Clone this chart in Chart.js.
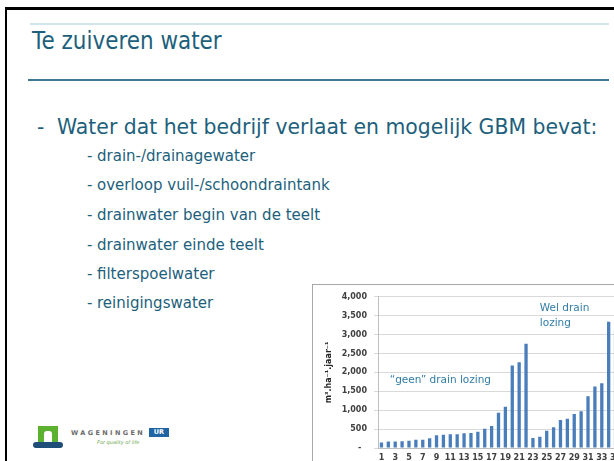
<!DOCTYPE html>
<html>
<head>
<meta charset="utf-8">
<title>Te zuiveren water</title>
<script src="https://cdn.jsdelivr.net/npm/chart.js@4.4.0/dist/chart.umd.min.js"></script>
<style>
    html, body { margin: 0; padding: 0; background: #fff; }
    body { width: 614px; height: 461px; overflow: hidden; position: relative;
           font-family: "DejaVu Sans", Verdana, sans-serif; color: #1d5f7c; }
    .frame { position: absolute; left: 5px; top: 7px; width: 700px; height: 500px;
             border-top: 3px solid #000; border-left: 2px solid #000; }
    .line1 { position: absolute; left: 30px; top: 23px; width: 579px; height: 2px; background: #d3e5ec; }
    .line2 { position: absolute; left: 28px; top: 79px; width: 581px; height: 2px; background: #3d7995; }
    .title { position: absolute; left: 32px; top: 26px; font-size: 25px; line-height: 30px;
             white-space: nowrap; transform: scaleX(0.86); transform-origin: left top; }
    .main { position: absolute; font-size: 20.4px; line-height: 24px; white-space: nowrap; }
    .sub { position: absolute; font-size: 15px; line-height: 18px; white-space: nowrap; }
    .chartbox { position: absolute; left: 312px; top: 284px; width: 400px; height: 300px;
                border-left: 1px solid #a8a8a8; border-top: 1px solid #a8a8a8; }
    .chartwrap { position: absolute; left: 313px; top: 285px; width: 316px; height: 181px; }
    .logo-green { position: absolute; left: 38px; top: 426px; width: 20px; height: 16px; background: #5cb130; }
    .logo-gate { position: absolute; left: 44px; top: 431px; width: 8px; height: 11px; background: #fff;
                 border-radius: 3px 3px 0 0; }
    .logo-wave { position: absolute; left: 33px; top: 442px; width: 30px; height: 6px; background: #1f4e79;
                 border-radius: 3px; }
    .logo-text { position: absolute; left: 71px; top: 429px; font-size: 6.5px; font-weight: bold;
                 letter-spacing: 2.4px; color: #6b6b6b; white-space: nowrap; }
    .logo-ur { position: absolute; left: 149px; top: 428px; width: 20px; height: 9px; background: #1f64a3;
               color: #fff; font-size: 6.5px; font-weight: bold; line-height: 9px; text-align: center; }
    .logo-sub { position: absolute; left: 97px; top: 439px; font-size: 5px; font-style: italic;
                color: #6aa84f; white-space: nowrap; }
</style>
</head>
<body>
<div class="frame"></div>
<div class="line1"></div>
<div class="title">Te zuiveren water</div>
<div class="line2"></div>

<div class="main" style="left:37px; top:115px;">-</div>
<div class="main" style="left:57px; top:115px;">Water dat het bedrijf verlaat en mogelijk GBM bevat:</div>

<div class="sub" style="left:87px; top:147px;">-</div>
<div class="sub" style="left:97px; top:147px;">drain-/drainagewater</div>
<div class="sub" style="left:87px; top:176px;">-</div>
<div class="sub" style="left:97px; top:176px;">overloop vuil-/schoondraintank</div>
<div class="sub" style="left:87px; top:206px;">-</div>
<div class="sub" style="left:97px; top:206px;">drainwater begin van de teelt</div>
<div class="sub" style="left:87px; top:236px;">-</div>
<div class="sub" style="left:97px; top:236px;">drainwater einde teelt</div>
<div class="sub" style="left:87px; top:265px;">-</div>
<div class="sub" style="left:97px; top:265px;">filterspoelwater</div>
<div class="sub" style="left:87px; top:294px;">-</div>
<div class="sub" style="left:97px; top:294px;">reinigingswater</div>

<div class="logo-green"></div>
<div class="logo-gate"></div>
<div class="logo-wave"></div>
<div class="logo-text">WAGENINGEN</div>
<div class="logo-ur">UR</div>
<div class="logo-sub">For quality of life</div>

<div class="chartbox"></div>
<div class="chartwrap"><canvas id="chart"></canvas></div>

<script>
    // bedrijven, genummerd zoals op de as
    var bedrijven = ['1', '2', '3', '4', '5', '6', '7', '8', '9', '10',
        '11', '12', '13', '14', '15', '16', '17', '18', '19', '20',
        '21', '22', '23', '24', '25', '26', '27', '28', '29', '30',
        '31', '32', '33', '34', '35'];

    // m3 per ha per jaar
    var lozing = [145, 170, 175, 178, 195, 220, 220, 258, 335, 352,
        362, 364, 390, 397, 430, 510, 580, 930, 1090, 2180,
        2270, 2760, 265, 300, 455, 550, 740, 775, 900, 970,
        1370, 1630, 1710, 3340, 3110];

    var yTicks = [0, 500, 1000, 1500, 2000, 2500, 3000, 3500, 4000];

    // teksten in de grafiek, geplaatst in as-eenheden (index, waarde)
    var notes = [
        { text: '\u201Cgeen\u201D drain lozing', index: 1.2, value: 1800 },
        { text: 'Wel drain', index: 23, value: 3700 },
        { text: 'lozing', index: 23, value: 3310 }
    ];

    var tickFont = { family: 'DejaVu Sans', size: 8, weight: 'bold' };

    var notesPlugin = {
        id: 'notes',
        afterDatasetsDraw: function (chart) {
            var ctx = chart.ctx;
            ctx.save();
            ctx.font = '10.5px "DejaVu Sans"';
            ctx.fillStyle = '#327da5';
            ctx.textAlign = 'left';
            ctx.textBaseline = 'middle';
            notes.forEach(function (n) {
                ctx.fillText(n.text, chart.scales.x.getPixelForValue(n.index), chart.scales.y.getPixelForValue(n.value));
            });
            ctx.restore();
        }
    };

    Chart.defaults.font.family = 'DejaVu Sans';

    new Chart(document.getElementById('chart').getContext('2d'), {
        type: 'bar',
        data: {
            labels: bedrijven,
            datasets: [{
                data: lozing,
                backgroundColor: '#4a7ebb',
                barPercentage: 0.48,
                categoryPercentage: 1
            }]
        },
        options: {
            responsive: true,
            maintainAspectRatio: false,
            animation: false,
            layout: { padding: { top: 9, right: 10, bottom: 0, left: 0 } },
            plugins: { legend: { display: false }, tooltip: { enabled: false } },
            scales: {
                x: {
                    grid: { display: false, drawTicks: false },
                    border: { display: true, color: '#bfbfbf' },
                    ticks: {
                        autoSkip: false, maxRotation: 0, padding: 5,
                        font: tickFont, color: '#404040',
                        callback: function (v, i) { return i % 2 === 0 ? this.getLabelForValue(v) : ''; }
                    },
                    afterFit: function (s) { s.height = 18; }
                },
                y: {
                    min: 0, max: 4000,
                    afterBuildTicks: function (s) { s.ticks = yTicks.map(function (v) { return { value: v }; }); },
                    ticks: {
                        padding: 7, font: tickFont, color: '#404040',
                        callback: function (v) { return v === 0 ? '-  ' : v.toLocaleString('en-US'); }
                    },
                    grid: { color: '#d9d9d9', tickLength: 4 },
                    border: { color: '#bfbfbf' },
                    title: {
                        display: true, text: 'm\u00B3.ha\u207B\u00B9.jaar\u207B\u00B9',
                        font: tickFont, color: '#262626', padding: { top: 11, bottom: 0 }
                    },
                    afterFit: function (s) { s.width = 65; }
                }
            }
        },
        plugins: [notesPlugin]
    });
</script>
</body>
</html>
